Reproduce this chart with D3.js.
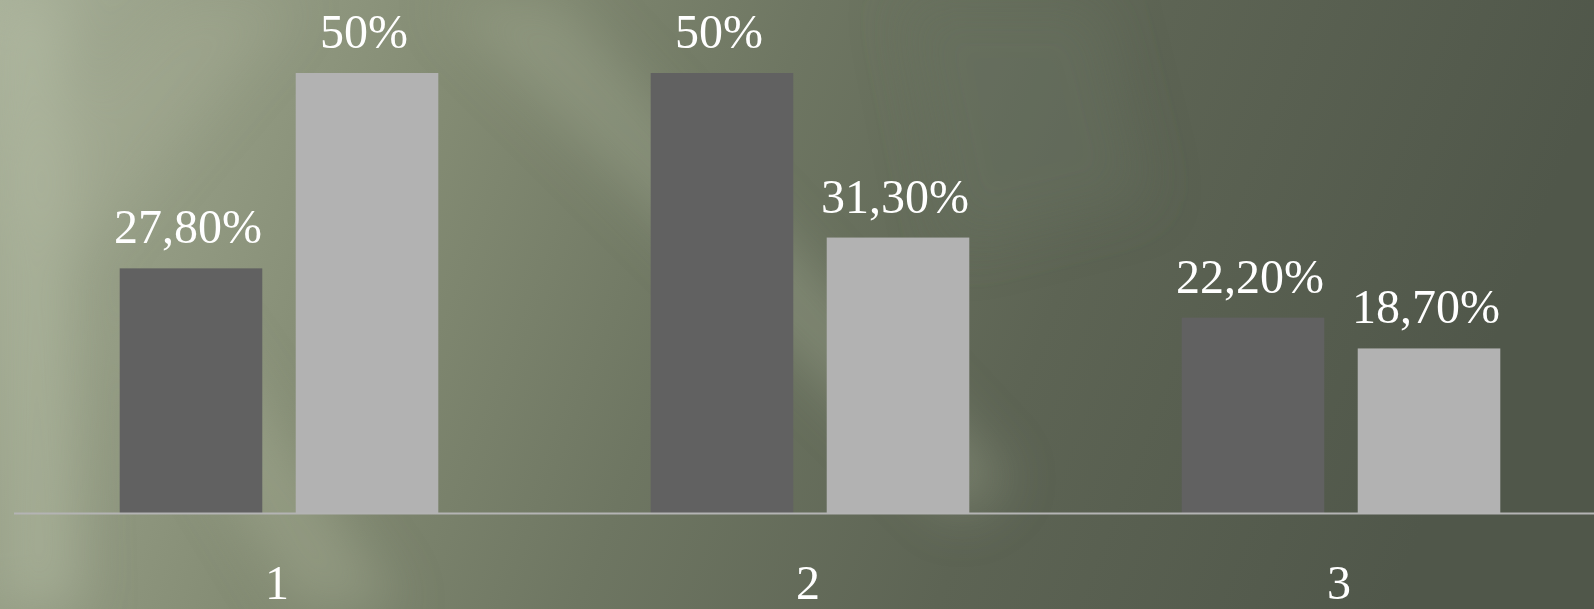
<!DOCTYPE html>
<html>
<head>
    <meta charset="utf-8">
    <style>
        body { margin: 0; overflow: hidden; }
        svg { display: block; }
        .val, .tick text { font-family: 'Liberation Serif', 'DejaVu Serif', serif; fill: white; }
    </style>
</head>
<body>
    <svg width="1594" height="609"></svg>

<script src="https://d3js.org/d3.v7.min.js"></script>
<script>
    // data
    let categories = ["1", "2", "3"]
    let seriesNames = ["A", "B"]
    let seriesA = [27.8, 50, 22.2]
    let seriesB = [50, 31.3, 18.7]
    let valueLabels = [["27,80%", "50%"], ["50%", "31,30%"], ["22,20%", "18,70%"]]

    let width = 1594
    let height = 609
    let baseY = 513

    let svg = d3.select("svg")
    let defs = svg.append("defs")

    // background: greenish grey gradient with a few soft light streaks
    let bg = defs.append("linearGradient").attr("id", "bg")
        .attr("x1", "0").attr("y1", "0").attr("x2", "1").attr("y2", "0.15")
    bg.selectAll("stop")
        .data([["0%", "#a8b099"], ["12%", "#979f87"], ["30%", "#838b73"], ["50%", "#6e7662"], ["72%", "#5d6454"], ["100%", "#50574a"]])
        .join("stop")
        .attr("offset", d => d[0])
        .attr("stop-color", d => d[1])

    defs.append("filter").attr("id", "blur")
        .attr("x", "-50%").attr("y", "-50%").attr("width", "200%").attr("height", "200%")
        .append("feGaussianBlur").attr("stdDeviation", 26)

    svg.append("rect").attr("width", width).attr("height", height).attr("fill", "url(#bg)")

    let streaks = svg.append("g").attr("filter", "url(#blur)")
    streaks.append("path").attr("d", "M0,0 L60,0 L80,609 L0,609 Z").attr("fill", "#b8c0a8").attr("opacity", 0.45)
    streaks.append("path").attr("d", "M440,0 L560,0 L1010,480 L960,520 Z").attr("fill", "#a9b199").attr("opacity", 0.35)
    streaks.append("path").attr("d", "M130,330 L210,330 L400,609 L300,609 Z").attr("fill", "#a9b199").attr("opacity", 0.4)
    streaks.append("path").attr("d", "M0,180 L180,0 L300,0 L80,260 Z").attr("fill", "#b0b8a0").attr("opacity", 0.25)
    streaks.append("path").attr("d", "M900,0 L1100,0 L1150,200 L950,250 Z").attr("fill", "#6a7260").attr("opacity", 0.4)

    // scales
    let x0 = d3.scaleBand()
        .domain(categories)
        .range([13.5, 1606.5])
        .paddingInner(0.4)
        .paddingOuter(0.2)

    let x1 = d3.scaleBand()
        .domain(seriesNames)
        .range([0, x0.bandwidth()])
        .paddingInner(0.19)

    let y = d3.scaleLinear()
        .domain([0, 50])
        .range([baseY, 73])

    let colors = { A: "#616161", B: "#b2b2b2" }

    let rows = categories.map((c, i) => ({
        cat: c,
        vals: [
            { key: "A", v: seriesA[i], label: valueLabels[i][0] },
            { key: "B", v: seriesB[i], label: valueLabels[i][1] }
        ]
    }))

    let groups = svg.append("g")
        .selectAll("g")
        .data(rows)
        .join("g")
        .attr("transform", d => `translate(${x0(d.cat)},0)`)

    groups.selectAll("rect")
        .data(d => d.vals)
        .join("rect")
        .attr("x", d => x1(d.key))
        .attr("y", d => y(d.v))
        .attr("width", x1.bandwidth())
        .attr("height", d => y(0) - y(d.v))
        .attr("fill", d => colors[d.key])

    groups.selectAll(".val")
        .data(d => d.vals)
        .join("text")
        .attr("class", "val")
        .attr("x", d => x1(d.key) + x1.bandwidth() / 2 - 3)
        .attr("y", d => y(d.v) - 25)
        .attr("text-anchor", "middle")
        .style("font-size", "48px")
        .text(d => d.label)

    // category axis
    let axis = svg.append("g")
        .attr("transform", `translate(0,${baseY})`)
        .call(d3.axisBottom(x0).tickSize(0).tickSizeOuter(0))

    axis.select(".domain")
        .attr("stroke", "#b4b4b4")
        .attr("stroke-width", 2)

    axis.selectAll(".tick text")
        .attr("y", 86)
        .attr("dy", 0)
        .attr("x", -2)
        .style("font-size", "48px")
</script>
</body>
</html>
